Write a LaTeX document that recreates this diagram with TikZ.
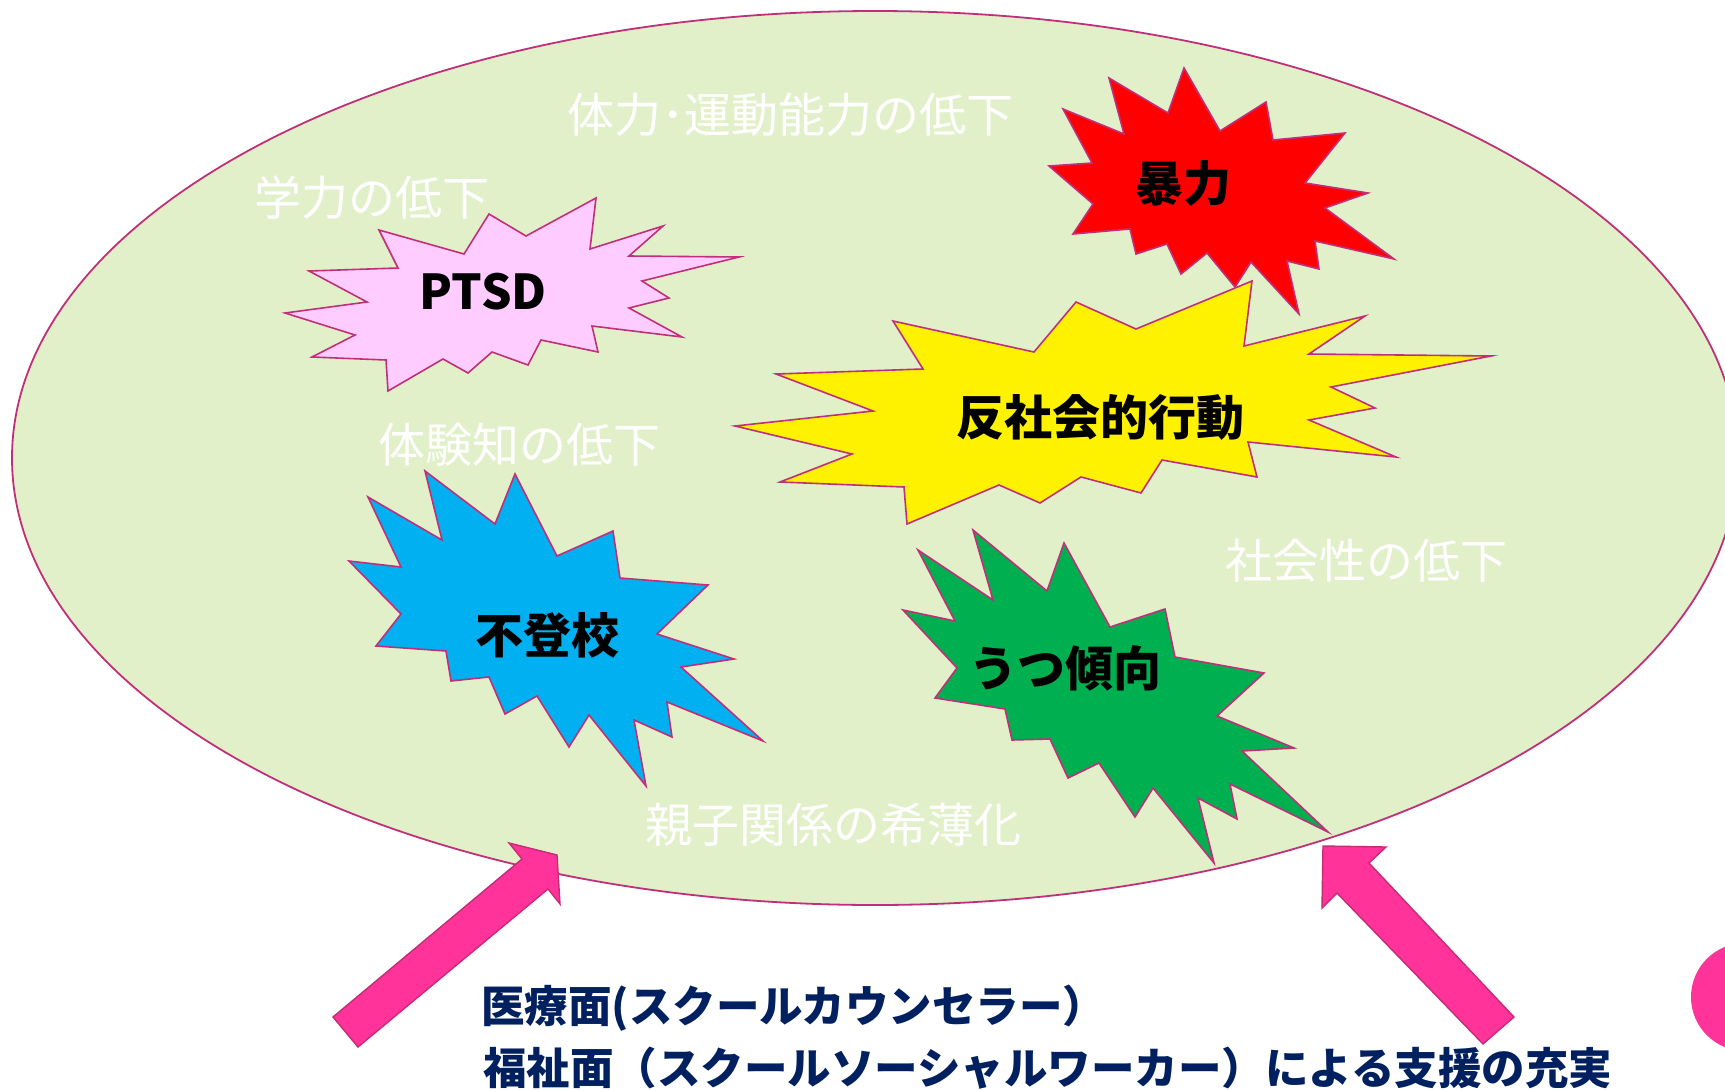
\documentclass[tikz,border=0pt]{standalone}
\usepackage{fontspec}
\setmainfont{Noto Sans CJK JP}
\definecolor{ellfill}{HTML}{E2F0C9}
\definecolor{magline}{HTML}{C0307A}
\definecolor{arrowpink}{HTML}{FF3399}
\definecolor{arrowline}{HTML}{C52C78}
\definecolor{navy}{HTML}{002060}
\definecolor{burstpink}{HTML}{FFCCFF}
\definecolor{burstblue}{HTML}{00B0F0}
\definecolor{burstgreen}{HTML}{00B050}
\begin{document}
\begin{tikzpicture}[x=1pt,y=-1pt,
  burst/.style={draw=magline,line width=1.6pt,line join=miter},
  bursttext/.style={font=\fontsize{48}{56}\selectfont\bfseries,text=black,inner sep=0pt},
  bgtext/.style={font=\fontsize{47}{54}\selectfont,text=white,inner sep=0pt,anchor=west},
  blockarrow/.style={fill=arrowpink,draw=arrowline,line width=1.4pt,line join=miter},
  bottomtext/.style={font=\fontsize{43.5}{50}\selectfont\bfseries,text=navy,inner sep=0pt,anchor=west}
]
\useasboundingbox (0,0) rectangle (1725,1090);
\clip (0,0) rectangle (1725,1090);
\fill[white] (0,0) rectangle (1725,1090);

% big ellipse
\draw[fill=ellfill,draw=magline,line width=1.8pt] (875,458) ellipse [x radius=863pt, y radius=447pt];

% background (white) texts
\node[bgtext] (t1) at (567,115) {体力･運動能力の低下};
\node[bgtext] (t2) at (254,198) {学力の低下};
\node[bgtext] (t3) at (378,445) {体験知の低下};
\node[bgtext] (t4) at (1225,561) {社会性の低下};
\node[bgtext] (t5) at (645,825) {親子関係の希薄化};

% red burst
\draw[burst,fill=red] (1184,68) -- (1220,131) -- (1266,102) -- (1273,140) -- (1345,133) -- (1305,183) -- (1368,193) -- (1325,208) -- (1394,259) -- (1315,241) -- (1319,269) -- (1287,261) -- (1299,314) -- (1251,262) -- (1235,287) -- (1207,253) -- (1181,274) -- (1167,244) -- (1136,254) -- (1130,229) -- (1073,234) -- (1093,204) -- (1049,166) -- (1092,163) -- (1063,109) -- (1124,134) -- (1109,78) -- (1168,113) -- cycle;
\node[bursttext] (violence) at (1183,183) {暴力};

% pink burst
\draw[burst,fill=burstpink] (596,198) -- (590,249) -- (663,226) -- (629,256) -- (739,257) -- (642,281) -- (669,298) -- (629,308) -- (682,337) -- (592,326) -- (598,352) -- (541,340) -- (528,365) -- (492,352) -- (468,373) -- (443,359) -- (388,391) -- (386,360) -- (312,357) -- (355,335) -- (285,313) -- (367,302) -- (309,271) -- (398,268) -- (379,230) -- (464,254) -- (489,214) -- (526,236) -- cycle;
\node[bursttext] (ptsd) at (483,292) {PTSD};

% green burst
\draw[burst,fill=burstgreen] (973,530) -- (1047,591) -- (1064,543) -- (1110,627) -- (1165,609) -- (1175,657) -- (1264,673) -- (1217,716) -- (1294,748) -- (1242,751) -- (1328,832) -- (1230,784) -- (1237,819) -- (1198,798) -- (1214,863) -- (1153,788) -- (1135,817) -- (1099,763) -- (1068,778) -- (1050,739) -- (1012,740) -- (1005,709) -- (935,698) -- (957,668) -- (903,610) -- (955,621) -- (918,550) -- (993,600) -- cycle;
\node[bursttext] (depress) at (1065,668) {うつ傾向};

% yellow burst
\draw[burst,fill=yellow] (1252,281) -- (1244,346) -- (1365,316) -- (1309,354) -- (1491,356) -- (1331,387) -- (1375,408) -- (1309,420) -- (1396,457) -- (1248,442) -- (1257,477) -- (1162,460) -- (1141,493) -- (1081,477) -- (1040,503) -- (999,485) -- (907,524) -- (904,487) -- (780,482) -- (852,454) -- (735,426) -- (873,411) -- (776,374) -- (923,369) -- (893,321) -- (1034,352) -- (1076,302) -- (1136,329) -- cycle;
\node[bursttext] (antisocial) at (1100,417) {反社会的行動};

% blue burst
\draw[burst,fill=burstblue] (425,471) -- (495,524) -- (515,474) -- (557,556) -- (613,531) -- (620,578) -- (708,585) -- (657,634) -- (734,659) -- (681,667) -- (763,741) -- (667,702) -- (672,737) -- (634,720) -- (646,786) -- (589,715) -- (569,747) -- (537,696) -- (505,714) -- (489,677) -- (451,681) -- (446,651) -- (376,646) -- (401,614) -- (349,561) -- (401,567) -- (368,497) -- (442,540) -- cycle;
\node[bursttext] (truancy) at (547,635) {不登校};

% block arrows
\draw[blockarrow] (333,1017) -- (522,859) -- (509,843) -- (557,855) -- (560,904) -- (548,889) -- (358,1047) -- cycle;
\draw[blockarrow] (1514,1017) -- (1369,863) -- (1386,847) -- (1323,846) -- (1322,908) -- (1337,893) -- (1483,1044) -- cycle;

% pink circle at right edge
\fill[arrowpink] (1745,997) circle [radius=54pt];

% bottom texts
\node[bottomtext] (line1) at (481,1008) {医療面(スクールカウンセラー）};
\node[bottomtext] (line2) at (483,1068) {福祉面（スクールソーシャルワーカー）による支援の充実};
\end{tikzpicture}
\end{document}
